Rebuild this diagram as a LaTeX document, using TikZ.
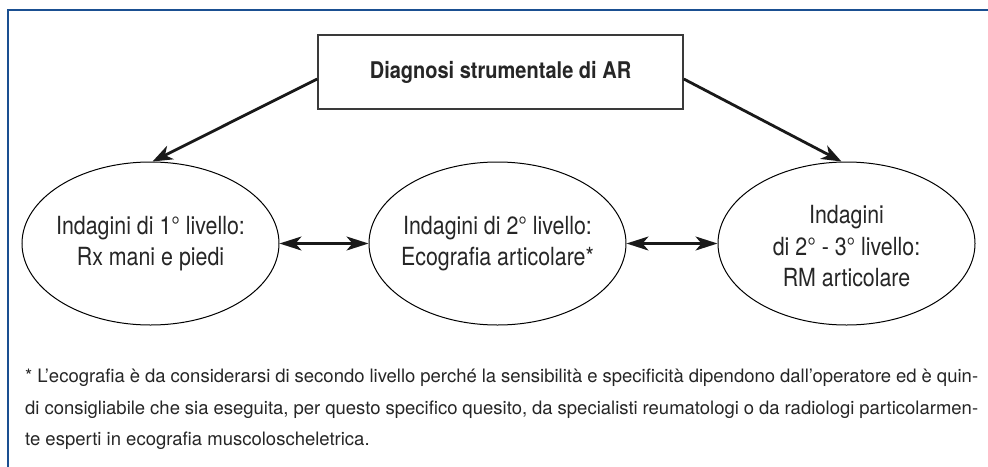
\documentclass[tikz,border=0pt]{standalone}
\usepackage{fontspec}
\setmainfont{TeX Gyre Heros}[FakeStretch=0.855, BoldFeatures={FakeStretch=0.87}]
\newfontfamily\footfont{TeX Gyre Heros}
\usetikzlibrary{arrows.meta,shapes.geometric}
\definecolor{frameblue}{HTML}{1A4F91}
\definecolor{txt}{HTML}{262626}
\definecolor{boxgray}{HTML}{3A3A3A}
\tikzset{
  framebar/.style={draw=frameblue,line width=2.3pt},
  titlebox/.style={draw=boxgray,line width=1.6pt,minimum width=365pt,minimum height=74pt,inner sep=0pt,fill=white},
  ell/.style={ellipse,draw=black,line width=1pt,minimum width=257pt,minimum height=163pt,inner sep=0pt},
  etext/.style={align=center,text=txt,font=\fontsize{25}{31.5}\selectfont,inner sep=0pt},
  mainarrow/.style={draw=black!90,line width=2.8pt,-{Stealth[length=20pt,width=15pt,inset=6pt]}},
  duoarrow/.style={draw=black!90,line width=2.2pt,{Stealth[length=22pt,width=14pt,inset=6pt]}-{Stealth[length=22pt,width=14pt,inset=6pt]}},
  foot/.style={anchor=base west,inner sep=0pt,text=txt,font=\footfont\fontsize{18.5}{22}\selectfont}
}
\begin{document}
\begin{tikzpicture}[x=1pt,y=-1pt]
\useasboundingbox (0,0) rectangle (988,466);
\fill[white] (0,0) rectangle (988,466);
\draw[framebar] (8,470) -- (8,10.2) -- (992,10.2);
\node[titlebox] (title) at (500.5,72) {\textbf{\fontsize{23}{26}\selectfont\color{txt}Diagnosi strumentale di AR}};
\node[ell] (e1) at (150.5,243.5) {};
\node[ell] (e2) at (497.5,243.5) {};
\node[ell] (e3) at (846.5,243.5) {};
\node[etext] (t1) at (e1) {Indagini di 1° livello:\\Rx mani e piedi};
\node[etext] (t2) at (e2) {Indagini di 2° livello:\\Ecografia articolare*};
\node[etext] (t3) at ([yshift=-3pt]e3.center) {Indagini\\di 2° - 3° livello:\\RM articolare};
\coordinate (sl) at ([yshift=-7pt]title.west);
\coordinate (sr) at ([yshift=-7pt]title.east);
\draw[mainarrow] (sl) -- ([xshift=2pt]e1.north);
\draw[mainarrow] (sr) -- ([xshift=-5pt]e3.north);
\draw[duoarrow] (e1.east) -- (e2.west);
\draw[duoarrow] (e2.east) -- (e3.west);
\node[foot] (f1) at (25,382) {\makebox[953pt][s]{* L’ecografia è da considerarsi di secondo livello perché la sensibilità e specificità dipendono dall’operatore ed è quin-}};
\node[foot] (f2) at (25,414) {\makebox[953pt][s]{di consigliabile che sia eseguita, per questo specifico quesito, da specialisti reumatologi o da radiologi particolarmen-}};
\node[foot] (f3) at (25,445.5) {te esperti in ecografia muscoloscheletrica.};
\end{tikzpicture}
\end{document}
